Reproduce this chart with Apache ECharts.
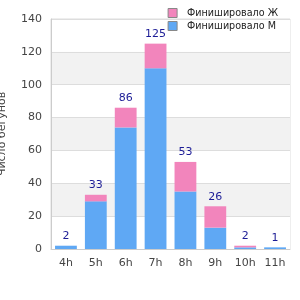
<!DOCTYPE html>
<html><head><meta charset="utf-8">
<script src="https://cdn.jsdelivr.net/npm/echarts@6/dist/echarts.min.js"></script>
<style>html,body{margin:0;padding:0;background:#fff}#c{width:300px;height:300px}</style>
</head><body><div id="c"></div>
<script>
const categories = ['4h','5h','6h','7h','8h','9h','10h','11h'];
const male = [2, 29, 74, 110, 35, 13, 1, 1];
const female = [0, 4, 12, 15, 18, 13, 1, 0];
const seriesNames = ['Финишировало Ж', 'Финишировало М'];
const yTicks = [0, 20, 40, 60, 80, 100, 120, 140];

const chart = echarts.init(document.getElementById('c'), null, {renderer: 'canvas'});
chart.setOption({
  animation: false,
  textStyle: {fontFamily: 'DejaVu Sans'},
  legend: {
    data: seriesNames,
    orient: 'vertical',
    right: 17, top: 3,
    itemWidth: 9, itemHeight: 9, itemGap: 3,
    icon: 'rect',
    itemStyle: {borderColor: '#888', borderWidth: 1},
    formatter: n => '{p| }{t|' + n + '}',
    textStyle: {fontSize: 9.6, color: '#222', fontFamily: 'DejaVu Sans',
      rich: {p: {width: 5, fontSize: 9.6}, t: {fontSize: 9.6, color: '#222'}}}
  },
  grid: {left: 51, right: 10, top: 19, bottom: 51, show: true, borderColor: '#ddd', borderWidth: 1,
    outerBoundsMode: 'none', containLabel: false},
  xAxis: {
    type: 'category', data: categories,
    axisLine: {lineStyle: {color: '#ccc'}},
    axisTick: {show: false},
    axisLabel: {fontSize: 11, color: '#444', margin: 9}
  },
  yAxis: {
    type: 'value', min: yTicks[0], max: yTicks[yTicks.length-1], interval: 20,
    name: 'Число бегунов', nameLocation: 'middle', nameGap: 43,
    nameTextStyle: {fontSize: 11, color: '#444'},
    axisLine: {show: true, lineStyle: {color: '#ccc'}},
    axisTick: {show: false},
    axisLabel: {fontSize: 11, color: '#444', margin: 9},
    splitLine: {lineStyle: {color: '#ddd'}},
    splitArea: {show: true, areaStyle: {color: ['#ffffff', '#f2f2f2']}}
  },
  series: [
    {name: seriesNames[1], type: 'bar', stack: 't', data: male, barWidth: '73%',
     itemStyle: {color: '#5fa8f4'}},
    {name: seriesNames[0], type: 'bar', stack: 't', data: female, barWidth: '73%',
     itemStyle: {color: '#f285bc'},
     label: {show: true, position: 'top', distance: 4, fontSize: 11, color: '#1c1c96',
       formatter: p => String(male[p.dataIndex] + female[p.dataIndex])}}
  ]
});
</script></body></html>
